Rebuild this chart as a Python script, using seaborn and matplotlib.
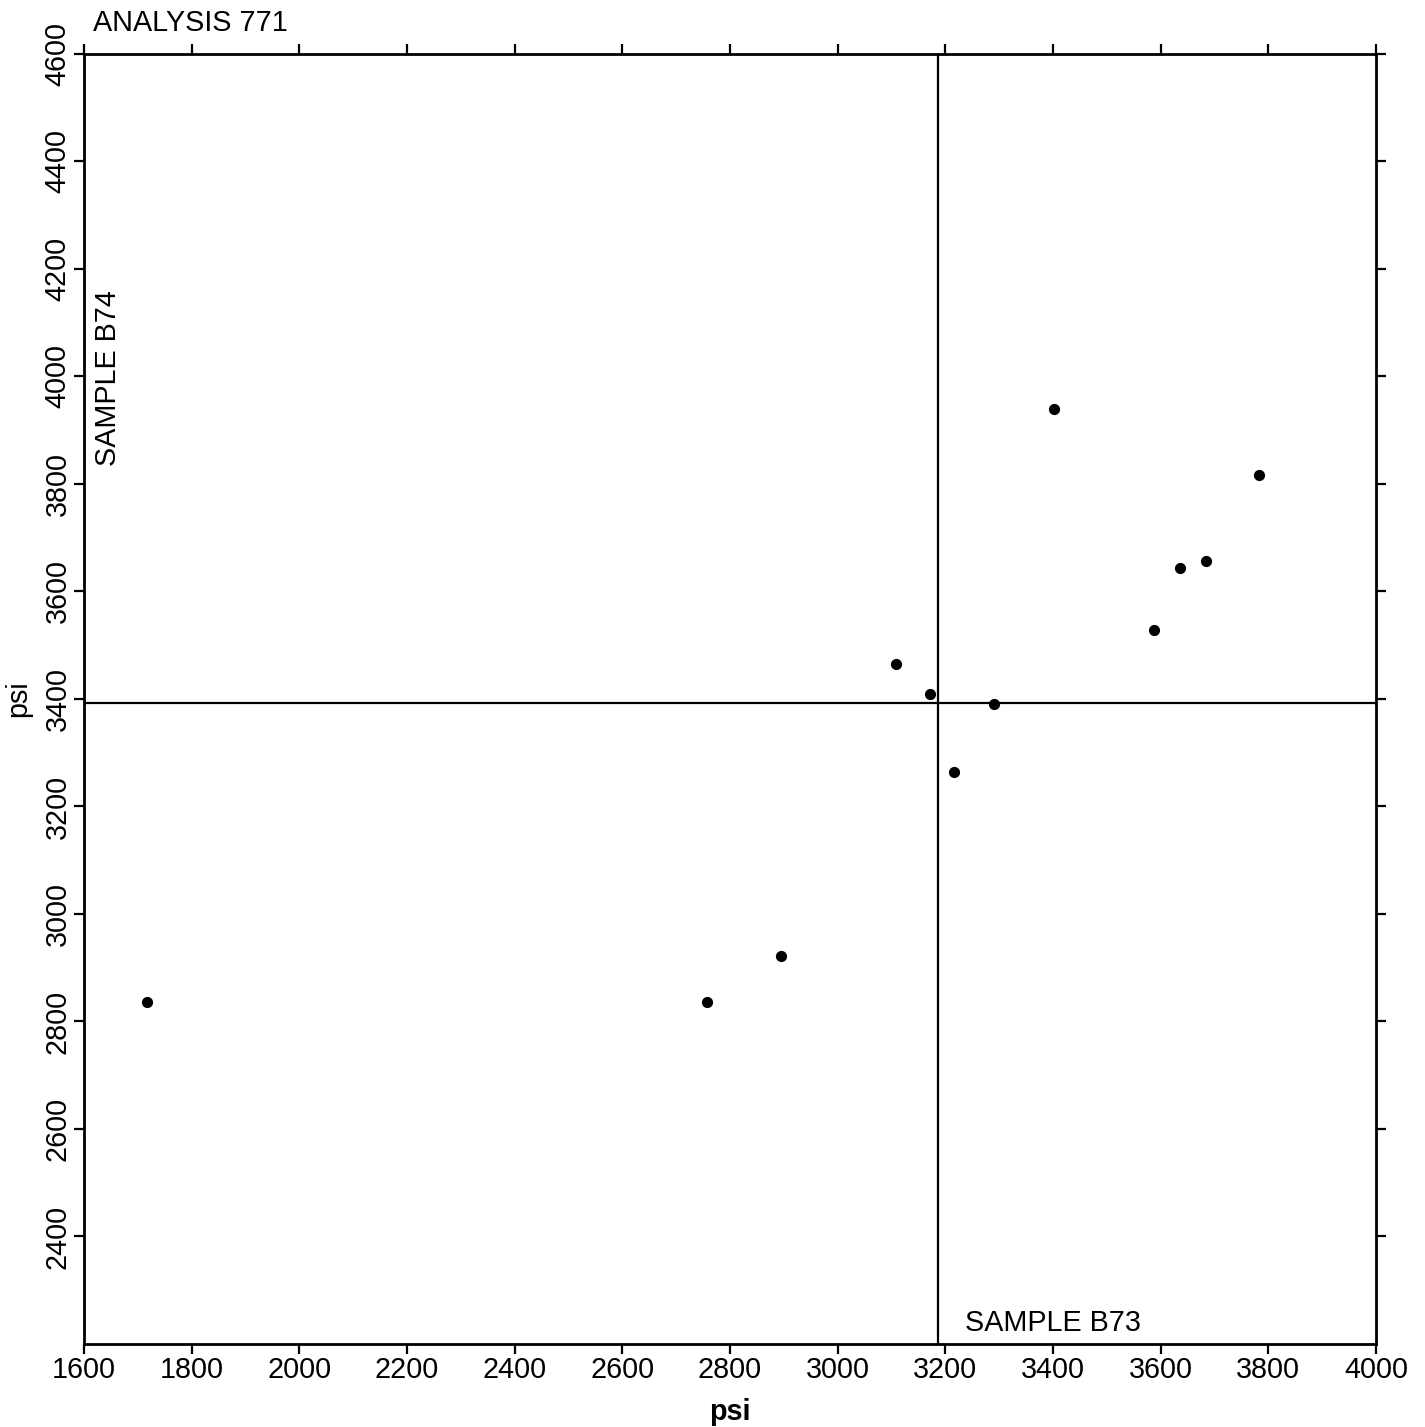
import numpy as np
import pandas as pd
import matplotlib
matplotlib.use("Agg")
import matplotlib.pyplot as plt
import seaborn as sns

# Data
sample_b73 = [1717, 2757, 2895, 3109, 3171, 3217, 3290, 3402, 3588, 3635, 3684, 3782]
sample_b74 = [2836, 2836, 2921, 3466, 3410, 3264, 3391, 3940, 3528, 3643, 3656, 3816]
x_ticks = [1600, 1800, 2000, 2200, 2400, 2600, 2800, 3000, 3200, 3400, 3600, 3800, 4000]
y_ticks = [2400, 2600, 2800, 3000, 3200, 3400, 3600, 3800, 4000, 4200, 4400, 4600]
title = "ANALYSIS 771"
x_name = "SAMPLE B73"
y_name = "SAMPLE B74"
unit = "psi"

df = pd.DataFrame({"b73": sample_b73, "b74": sample_b74})

sns.set_theme(style="white")
plt.rcParams["font.family"] = ["Liberation Sans", "DejaVu Sans"]

FS = 20.7

fig = plt.figure(figsize=(14.25, 14.27), dpi=100)
ax = fig.add_axes([84 / 1425, 1 - 1344 / 1427, 1292 / 1425, 1290 / 1427])

sns.scatterplot(data=df, x="b73", y="b74", ax=ax, color="black", s=65,
                linewidth=0, zorder=3)

ax.axvline(np.mean(sample_b73), color="black", lw=1.6, zorder=2)
ax.axhline(np.mean(sample_b74), color="black", lw=1.6, zorder=2)

ax.set_xlim(1600, 4000)
ax.set_ylim(2200, 4600)
ax.set_xticks(x_ticks)
ax.set_yticks(y_ticks)
ax.set_xticklabels([str(t) for t in x_ticks])
ax.set_yticklabels([str(t) for t in y_ticks], rotation=90, va="center")

for s in ax.spines.values():
    s.set_visible(True)
    s.set_color("black")
    s.set_linewidth(2)

ax.tick_params(axis="both", which="major", direction="out", length=7, width=1.6,
               color="black", labelsize=FS, labelcolor="black",
               top=True, right=True, bottom=True, left=True, pad=2)
ax.tick_params(axis="x", labeltop=False)
ax.tick_params(axis="y", labelright=False)

ax.set_xlabel(unit, fontsize=FS, fontweight="bold", color="black", labelpad=10)
ax.set_ylabel(unit, fontsize=FS, color="black", labelpad=8)

ax.text((965 - 84) / 1292, (1344 - 1331) / 1290, x_name, transform=ax.transAxes,
        fontsize=FS, color="black", ha="left", va="baseline")
ax.text((108 - 84) / 1292, (1344 - 290) / 1290, y_name, transform=ax.transAxes,
        fontsize=FS, color="black", ha="center", va="top", rotation=90)

fig.text(93 / 1425, 1 - 31 / 1427, title, fontsize=FS, color="black",
         ha="left", va="baseline")

fig.savefig("out.png", dpi=100, facecolor="white")
